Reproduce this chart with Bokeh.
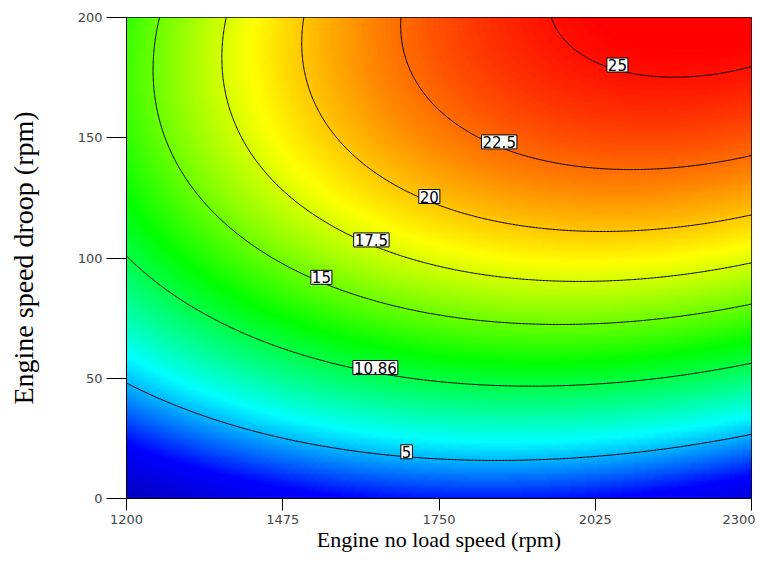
import numpy as np
from bokeh.plotting import figure
from bokeh.models import Range1d, FixedTicker, LinearColorMapper, ColumnDataSource
from bokeh.core.properties import value
from bokeh.embed import file_html
from bokeh.resources import INLINE

# ---- axes ----
x_ticks = [1200, 1475, 1750, 2025, 2300]
y_ticks = [0, 50, 100, 150, 200]
x_title = "Engine no load speed (rpm)"
y_title = "Engine speed droop (rpm)"

# ---- quadratic response-surface model (coded units) ----
# A = (x - 1750) / 550 ,  B = (y - 100) / 100
coef_names = ["intercept", "A", "B", "A^2", "B^2", "AB"]
coef_values = [17.88, 3.49, 10.86, -3.60, -5.45, 2.56]

# ---- contour levels and their labels ----
levels = [5, 10.86, 15, 17.5, 20, 22.5, 25]
level_labels = ["5", "10.86", "15", "17.5", "20", "22.5", "25"]
label_x = [1693, 1638, 1543, 1631, 1733, 1856, 2064]

# ---- colour gradient stops (response value -> colour) ----
stop_values = [-3.0, 1.0, 6.5, 12.5, 18.5, 25.5]
stop_colors = [(0, 0, 190), (0, 0, 255), (0, 255, 255), (0, 255, 0), (255, 255, 0), (255, 0, 0)]


def response(x, y):
    A = (np.asarray(x, dtype=float) - 1750.0) / 550.0
    B = (np.asarray(y, dtype=float) - 100.0) / 100.0
    b0, bA, bB, bAA, bBB, bAB = coef_values
    return b0 + bA * A + bB * B + bAA * A ** 2 + bBB * B ** 2 + bAB * A * B


xs = np.linspace(x_ticks[0], x_ticks[-1], 441)
ys = np.linspace(y_ticks[0], y_ticks[-1], 401)
X, Y = np.meshgrid(xs, ys)
Z = response(X, Y)

# palette
low, high = stop_values[0], stop_values[-1]
vals = np.linspace(low, high, 256)
rs = np.interp(vals, stop_values, [c[0] for c in stop_colors])
gs = np.interp(vals, stop_values, [c[1] for c in stop_colors])
bs = np.interp(vals, stop_values, [c[2] for c in stop_colors])
palette = ["#%02x%02x%02x" % (int(round(r)), int(round(g)), int(round(b))) for r, g, b in zip(rs, gs, bs)]
cmap = LinearColorMapper(palette=palette, low=low, high=high)

p = figure(frame_width=625, frame_height=481,
           x_range=Range1d(x_ticks[0], x_ticks[-1]), y_range=Range1d(y_ticks[0], y_ticks[-1]),
           output_backend="svg", toolbar_location=None,
           min_border_left=126, min_border_right=4, min_border_top=17, min_border_bottom=67)
p.background_fill_color = "white"
p.border_fill_color = "white"
p.outline_line_color = "black"
p.outline_line_width = 1
p.grid.visible = False

p.image(image=[Z], x=x_ticks[0], y=y_ticks[0], dw=x_ticks[-1] - x_ticks[0], dh=y_ticks[-1] - y_ticks[0],
        color_mapper=cmap)

p.contour(xs, ys, Z, levels, line_color="black", line_width=1, fill_color=None)

# label positions on each contour
lab_y = []
for lv, lx in zip(levels, label_x):
    zcol = response(np.full_like(ys, lx), ys)
    imax = int(np.argmax(zcol))
    lab_y.append(float(np.interp(lv, zcol[:imax + 1], ys[:imax + 1])))
src = ColumnDataSource(dict(x=label_x, y=lab_y, text=level_labels))
p.text(x="x", y="y", text="text", source=src,
       text_font=value("DejaVu Sans"), text_font_size="15px",
       text_align="center", text_baseline="middle", text_color="black",
       y_offset=-5,
       background_fill_color="white", border_line_color="black", border_line_width=1,
       padding=1)

# axes
for ax in (p.xaxis[0], p.yaxis[0]):
    ax.axis_line_color = "black"
    ax.major_tick_line_color = "black"
    ax.minor_tick_line_color = None
    ax.major_tick_in = 0
    ax.major_label_text_font = "DejaVu Sans"
    ax.major_label_text_font_size = "13px"
    ax.major_label_text_color = "#444444"
    ax.axis_label_text_font = "Liberation Serif"
    ax.axis_label_text_font_style = "normal"
    ax.axis_label_text_color = "black"

p.xaxis.ticker = FixedTicker(ticks=x_ticks)
p.yaxis.ticker = FixedTicker(ticks=y_ticks)
p.xaxis.major_tick_out = 12
p.yaxis.major_tick_out = 20
p.xaxis.major_label_standoff = 4
p.yaxis.major_label_standoff = 4
p.xaxis.axis_label = x_title
p.yaxis.axis_label = y_title
p.xaxis.axis_label_text_font_size = "22px"
p.yaxis.axis_label_text_font_size = "28px"
p.xaxis.axis_label_standoff = 0
p.yaxis.axis_label_standoff = 36

open("out.html", "w").write(file_html(p, INLINE))
